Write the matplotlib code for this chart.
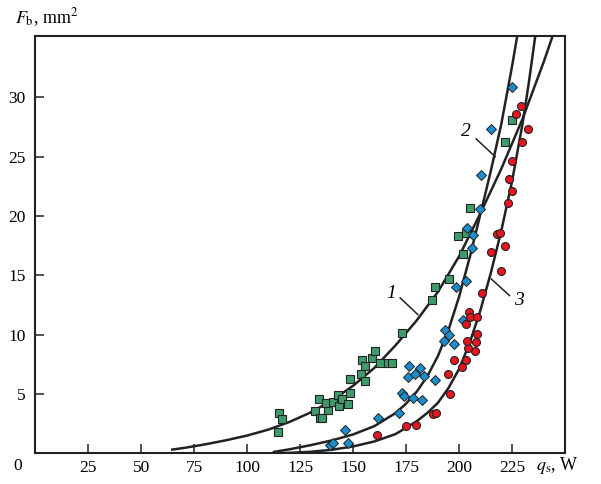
import numpy as np
import matplotlib
matplotlib.use('Agg')
import matplotlib.pyplot as plt

plt.rcParams['font.family'] = ['Liberation Serif', 'DejaVu Serif']
plt.rcParams['mathtext.fontset'] = 'stix'

# fitted curves
c1_x = [64, 70, 80, 90, 100, 110, 120, 130, 140, 150, 160, 170, 180, 190, 200, 210, 220, 230, 240, 245]
c1_y = [0.3, 0.45, 0.75, 1.1, 1.5, 2.0, 2.65, 3.45, 4.45, 5.7, 7.2, 9.1, 11.2, 13.6, 16.6, 20.2, 24.0,
        28.2, 33.0, 35.6]
c2_x = [112, 120, 130, 140, 150, 160, 170, 175, 180, 185, 190, 195, 200, 205, 210, 215, 220, 225, 227.5]
c2_y = [0.1, 0.34, 0.69, 1.09, 1.59, 2.29, 3.39, 4.19, 5.19, 6.49, 8.19, 10.39, 13.19, 16.49, 20.1,
        23.8, 27.8, 32.6, 35.2]
c3_x = [112, 120, 130, 140, 150, 160, 170, 180, 185, 190, 195, 200, 205, 210, 215, 220, 225, 230, 233, 236]
c3_y = [0.0, 0.04, 0.13, 0.3, 0.58, 1.0, 1.62, 2.7, 3.4, 4.25, 5.5, 7.1, 9.3, 12.0, 15.2, 18.8, 22.9,
        27.8, 31.3, 35.2]

# measured points
green_x = [115, 116.4, 114.5, 131.8, 134.5, 135.3, 138, 133.9, 137.2, 140.5, 142.8, 143.3, 144.6, 147.4,
           148.5, 148.3, 153.9, 155.4, 154.2, 155.4, 159, 160.3, 162.5, 166.4, 168.3, 173.2, 187, 188.8,
           195.4, 201.8, 199.3, 203.1, 205.3, 221.8, 225.2]
green_y = [3.4, 2.9, 1.8, 3.6, 2.95, 3.0, 3.65, 4.6, 4.2, 4.35, 4.9, 4.0, 4.6, 4.15,
           5.1, 6.3, 6.7, 6.1, 7.9, 7.4, 8.0, 8.65, 7.6, 7.6, 7.6, 10.1, 12.9, 14.0,
           14.7, 16.8, 18.3, 18.6, 20.7, 26.2, 28.1]
blue_x = [138.9, 140.5, 146, 147.6, 161.6, 171.5, 173, 173.8, 178.2, 182.5, 175.8, 176.3, 179, 181.4,
          183.4, 188.6, 192.7, 193.6, 195.2, 197.4, 201.8, 198.4, 203.1, 205.9, 206.4, 203.7, 210.1,
          210.6, 214.9, 224.9]
blue_y = [0.67, 0.9, 1.96, 0.9, 2.95, 3.4, 5.05, 4.8, 4.7, 4.5, 6.4, 7.4, 6.7, 7.2,
          6.5, 6.2, 9.5, 10.4, 10.0, 9.2, 11.2, 14.0, 14.5, 17.3, 18.4, 19.0, 20.6,
          23.5, 27.3, 30.9]
red_x = [161.4, 175.1, 179.8, 187.6, 189.2, 195.8, 194.6, 201.3, 197.4, 203.1, 207.3, 204.2, 207.8,
         203.7, 208.6, 203.1, 204.6, 205.3, 208.7, 210.8, 219.7, 215, 221.8, 217.8, 219.4, 223,
         224.9, 223.8, 224.9, 229.5, 232.5, 227, 229.2]
red_y = [1.54, 2.3, 2.35, 3.3, 3.4, 5.0, 6.7, 7.3, 7.9, 7.9, 8.6, 8.9, 9.4,
         9.5, 10.05, 10.9, 11.9, 11.5, 11.5, 13.5, 15.4, 17.0, 17.5, 18.5, 18.6, 21.1,
         22.1, 23.1, 24.6, 26.2, 27.3, 28.6, 29.3]

xticks = [25, 50, 75, 100, 125, 150, 175, 200, 225]
yticks = [5, 10, 15, 20, 25, 30]

fig = plt.figure(figsize=(6.01, 4.84), dpi=100)
ax = fig.add_axes([0.059, 0.0634, 0.881, 0.8628])

ink = '#222222'
for cx, cy in [(c1_x, c1_y), (c2_x, c2_y), (c3_x, c3_y)]:
    ax.plot(cx, cy, color=ink, lw=1.8, solid_capstyle='butt', solid_joinstyle='round', zorder=2)

ax.plot(green_x, green_y, 's', ms=5.4, mfc='#3e9b6c', mec=ink, mew=0.8, ls='none', zorder=3)
ax.plot(blue_x, blue_y, 'D', ms=4.8, mfc='#1a8dcc', mec=ink, mew=0.7, ls='none', zorder=3)
ax.plot(red_x, red_y, 'o', ms=5.7, mfc='#e8141e', mec=ink, mew=0.8, ls='none', zorder=3)

# curve labels with leaders
ax.plot([172.2, 180.5], [13.1, 11.7], color=ink, lw=1.1)
ax.plot([208.1, 217.1], [26.5, 25.0], color=ink, lw=1.1)
ax.plot([223.8, 215.2], [13.3, 14.7], color=ink, lw=1.1)
ax.text(168, 13.5, '1', style='italic', fontsize=14, ha='center', va='center')
ax.text(203.4, 27.1, '2', style='italic', fontsize=14, ha='center', va='center')
ax.text(228.5, 12.9, '3', style='italic', fontsize=14, ha='center', va='center')

ax.set_xlim(0, 250)
ax.set_ylim(0, 35.2)
ax.set_xticks(xticks)
ax.set_yticks(yticks)
ax.tick_params(direction='in', length=6.5, width=1.1, labelsize=12.5, color=ink)
ax.tick_params(axis='x', pad=5)
ax.tick_params(axis='y', pad=7)
for s in ax.spines.values():
    s.set_linewidth(1.5)
    s.set_color(ink)

fig.text(18 / 601, 1 - 466 / 484, '0', fontsize=12.5, ha='center', va='center')
fig.text(15 / 601, 1 - 18 / 484, r'$F_{\rm b}$, mm$^2$', fontsize=13, ha='left', va='center')
fig.text(536 / 601, 1 - 466 / 484, r'$q_{\rm s}$, W', fontsize=13, ha='left', va='center')

fig.savefig('out.png', dpi=100)
